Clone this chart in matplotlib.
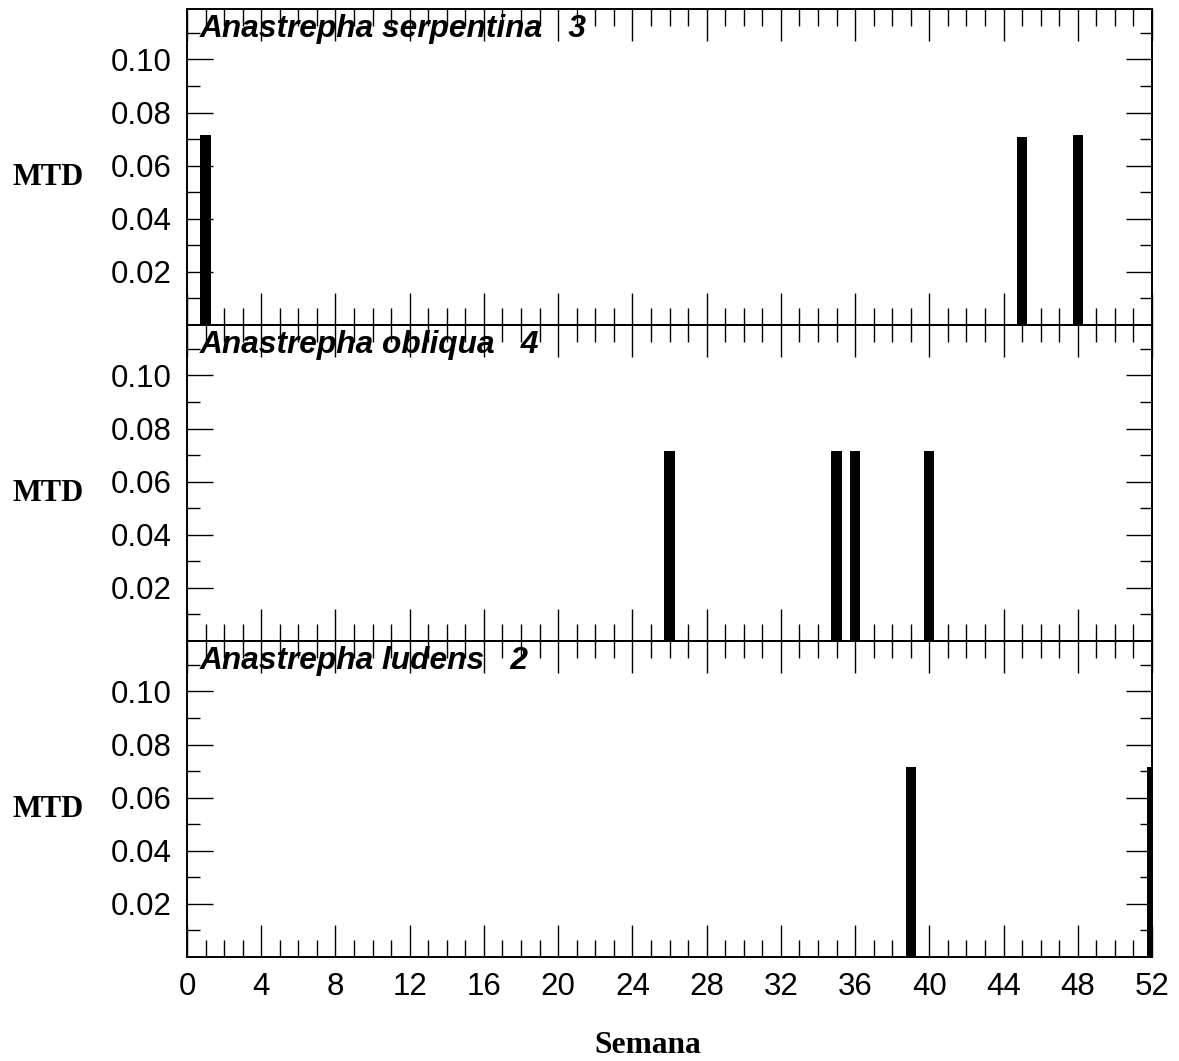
import numpy as np
import matplotlib
matplotlib.use("Agg")
import matplotlib.pyplot as plt
from matplotlib.ticker import MultipleLocator, FixedLocator

# data
species = ["Anastrepha serpentina", "Anastrepha obliqua", "Anastrepha ludens"]
counts = [3, 4, 2]
serpentina_weeks = [1, 45, 48]
serpentina_mtd = [0.0714, 0.0707, 0.0714]
obliqua_weeks = [26, 35, 36, 40]
obliqua_mtd = [0.0714, 0.0714, 0.0714, 0.0714]
ludens_weeks = [39, 52]
ludens_mtd = [0.0714, 0.0714]
week_ticks = list(range(0, 53, 4))
mtd_ticks = [0.02, 0.04, 0.06, 0.08, 0.10]

weeks = [serpentina_weeks, obliqua_weeks, ludens_weeks]
mtd = [serpentina_mtd, obliqua_mtd, ludens_mtd]

W, H = 1179, 1061
fig, axes = plt.subplots(3, 1, figsize=(W / 100, H / 100), dpi=100, sharex=True)
fig.subplots_adjust(left=187 / W, right=1152 / W, top=1 - 9 / H, bottom=1 - 957 / H, hspace=0)

sans = ["Liberation Sans", "DejaVu Sans"]
serif = ["Liberation Serif", "DejaVu Serif"]

for i, ax in enumerate(axes):
    ax.bar(weeks[i], mtd[i], width=0.55, color="black", edgecolor="none")
    ax.set_xlim(0, 52)
    ax.set_ylim(0, 0.119)
    ax.xaxis.set_major_locator(MultipleLocator(4))
    ax.xaxis.set_minor_locator(MultipleLocator(1))
    ax.yaxis.set_major_locator(FixedLocator(mtd_ticks))
    ax.yaxis.set_minor_locator(FixedLocator([0.01, 0.03, 0.05, 0.07, 0.09, 0.11]))
    ax.tick_params(axis="both", which="both", direction="in", top=True, right=True,
                   color="black", width=1.0)
    ax.tick_params(axis="x", which="major", length=23)
    ax.tick_params(axis="x", which="minor", length=12)
    ax.tick_params(axis="y", which="major", length=19, labelsize=22.5, pad=11)
    ax.tick_params(axis="y", which="minor", length=9)
    ax.set_yticklabels([f"{v:.2f}" for v in mtd_ticks], family=sans)
    for s in ax.spines.values():
        s.set_linewidth(1.4)
    ax.text(0.013, 0.985, f"{species[i]}   {counts[i]}", transform=ax.transAxes,
            ha="left", va="top", fontsize=22.8, fontweight="bold", fontstyle="italic",
            family=sans)
    pos = ax.get_position()
    fig.text(48 / W, (pos.y0 + pos.y1) / 2 - 18 / H, "MTD", fontsize=22,
             fontweight="bold", family=serif, ha="center", va="baseline")

for ax in axes[:-1]:
    ax.tick_params(axis="x", labelbottom=False)

axes[-1].set_xticks(week_ticks)
axes[-1].set_xticklabels([str(v) for v in week_ticks], family=sans)
axes[-1].tick_params(axis="x", which="major", pad=11, labelsize=22.5)

fig.text(648 / W, 1 - 1053 / H, "Semana", fontsize=22.7, fontweight="bold",
         family=serif, ha="center", va="baseline")

fig.savefig("out.png", dpi=100)
